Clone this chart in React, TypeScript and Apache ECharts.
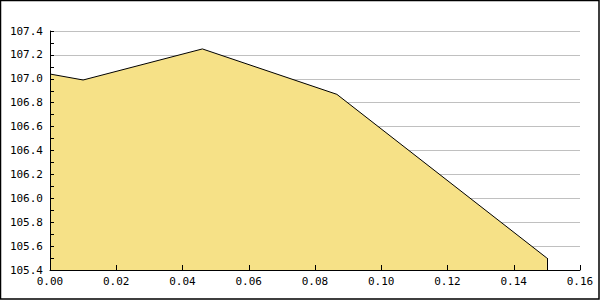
import React, { useEffect, useRef } from "react";
import * as echarts from "echarts";

const xValues = [0, 0.01, 0.046, 0.0866, 0.15];
const yValues = [107.04, 106.99, 107.25, 106.87, 105.5];
const yMin = 105.4;
const yMax = 107.4;

export default function App() {
  const ref = useRef<HTMLDivElement>(null);
  useEffect(() => {
    document.body.style.margin = "0";
    const chart = echarts.init(ref.current!, null, { renderer: "svg" });
    const font = { fontFamily: "DejaVu Sans Mono", fontSize: 11, color: "#000" };
    const lastX = xValues[xValues.length - 1];
    const lastY = yValues[yValues.length - 1];
    chart.setOption({
      animation: false,
      backgroundColor: "#fff",
      grid: { left: 50, right: 20, top: 31, bottom: 30, containLabel: false },
      graphic: [
        {
          type: "rect",
          shape: { x: 0.5, y: 0.5, width: 598.5, height: 298.5 },
          style: { fill: "none", stroke: "#000", lineWidth: 1.5 },
          silent: true,
        },
      ],
      xAxis: {
        type: "value",
        z: 10,
        min: 0,
        max: 0.16,
        interval: 0.02,
        axisLine: { show: true, lineStyle: { color: "#000", width: 1 } },
        axisTick: { show: true, inside: true, length: 5, lineStyle: { color: "#000" } },
        axisLabel: { ...font, margin: 6, formatter: (v: number) => v.toFixed(2) },
        splitLine: { show: false },
      },
      yAxis: [
        {
          type: "value",
          z: 0,
          min: yMin,
          max: yMax,
          interval: 0.2,
          axisLine: { show: false },
          axisTick: { show: false },
          axisLabel: { ...font, margin: 7, formatter: (v: number) => v.toFixed(1) },
          splitLine: { show: true, lineStyle: { color: "#c0c0c0", width: 1 } },
        },
        {
          type: "value",
          z: 10,
          position: "left",
          min: yMin,
          max: yMax,
          interval: 0.1,
          axisLine: { show: true, lineStyle: { color: "#000", width: 1 } },
          axisTick: { show: true, inside: true, length: 4, lineStyle: { color: "#000" } },
          axisLabel: { show: false },
          splitLine: { show: false },
        },
      ],
      series: [
        {
          type: "line",
          z: 2,
          data: xValues.map((x, i) => [x, yValues[i]]),
          symbol: "none",
          lineStyle: { color: "#000", width: 1 },
          areaStyle: { color: "#f6e187", opacity: 1, origin: "start" },
          markLine: {
            silent: true,
            symbol: "none",
            label: { show: false },
            lineStyle: { color: "#000", width: 1, type: "solid" },
            data: [[{ coord: [lastX, lastY] }, { coord: [lastX, yMin] }]],
          },
        },
      ],
    });
    return () => chart.dispose();
  }, []);
  return <div ref={ref} style={{ width: 600, height: 300 }} />;
}
